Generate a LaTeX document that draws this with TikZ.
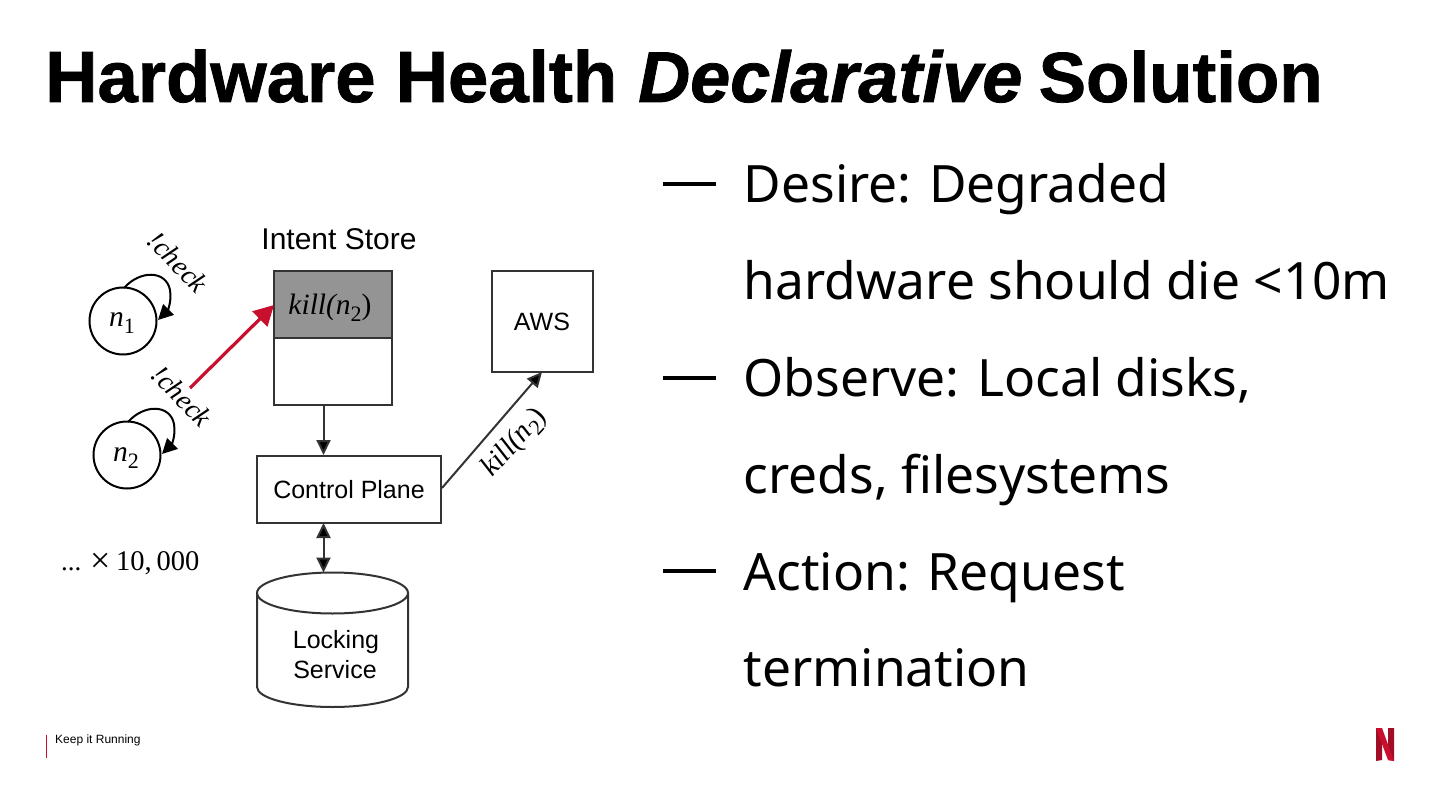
\documentclass[tikz,border=0pt]{standalone}
\usepackage{fontspec}
\setmainfont{Liberation Serif}
\newfontfamily\titlef[FakeBold=1.1]{Liberation Sans Bold}
\newfontfamily\titleif[FakeBold=1.1]{Liberation Sans Bold Italic}
\newfontfamily\bodyf{Noto Sans}
\newfontfamily\diagf{Liberation Sans}
\usetikzlibrary{arrows.meta,shapes.geometric}
\definecolor{crim}{HTML}{C8102E}
\tikzset{
 bx/.style={draw=black!80,line width=2pt,inner sep=0pt,anchor=north west},
 lbl/.style={font=\diagf\fontsize{25}{28}\selectfont,text=black,inner sep=0pt},
 body/.style={font=\bodyf\fontsize{51.5}{56}\selectfont,text=black,anchor=base west,inner sep=0pt},
 dashline/.style={line width=3.6pt,draw=black},
 cir/.style={draw=black,line width=2pt,circle,minimum size=67pt,inner sep=0pt},
 math/.style={font=\fontsize{29.5}{32}\selectfont\itshape,inner sep=0pt},
 conn/.style={draw=black!80,line width=2pt,-{Triangle[length=15pt,width=14pt,fill=black]}},
 both/.style={draw=black!80,line width=2pt,{Triangle[length=15pt,width=14pt,fill=black]}-{Triangle[length=15pt,width=14pt,fill=black]}},
}
\newcommand{\subn}[1]{\textit{n}\raisebox{-0.5ex}{\fontsize{22}{24}\selectfont\upshape #1}}
\begin{document}
\begin{tikzpicture}[x=1pt,y=-1pt]
\useasboundingbox (0,0) rectangle (1440,810);
\fill[white] (0,0) rectangle (1440,810);
% title
\node[anchor=base west,inner sep=0pt,font=\titlef\fontsize{72.5}{80}\selectfont] (title) at (45,102) {Hardware Health};
\node[anchor=base west,inner sep=0pt,font=\titleif\fontsize{72}{80}\selectfont] (titleb) at (638,102) {Declarative};
\node[anchor=base west,inner sep=0pt,font=\titlef\fontsize{71}{80}\selectfont] (titlec) at (1038.5,102) {Solution};
% body
\foreach \n/\y/\t in {a/203/{Desire: Degraded},b/300/{hardware should die <10m},c/396/{Observe: Local disks,},d/493/{creds, filesystems},e/590/{Action: Request},f/686/{termination}}
  \node[body] (b\n) at (743.5,\y) {\t};
\coordinate (d1a) at (663,184); \coordinate (d1b) at (716,184);
\coordinate (d2a) at (663,378); \coordinate (d2b) at (716,378);
\coordinate (d3a) at (663,571); \coordinate (d3b) at (716,571);
\draw[dashline] (d1a)--(d1b); \draw[dashline] (d2a)--(d2b); \draw[dashline] (d3a)--(d3b);
% diagram
\node[lbl,font=\diagf\fontsize{30}{32}\selectfont] (intent) at (339,239) {Intent Store};
\node[bx,fill=black!42,minimum width=118pt,minimum height=67pt] (kill) at (272.7,270) {};
\node[math] (killt) at (330,308) {kill(\subn{2}\upshape)};
\node[bx,minimum width=118pt,minimum height=67pt] (empty) at (272.7,337) {};
\node[bx,minimum width=101pt,minimum height=101pt,lbl] (aws) at (490.7,270) {};
\node[lbl] at (542,322) {AWS};
\node[bx,minimum width=184pt,minimum height=67pt] (cp) at (256.2,454.7) {};
\node[lbl] (cpt) at (349,490) {Control Plane};
% cylinder
\draw[draw=black!80,line width=2pt,fill=white] (257,593) arc[x radius=75.5,y radius=20.5,start angle=180,end angle=360] -- (408,687) arc[x radius=75.5,y radius=20,start angle=0,end angle=180] -- cycle;
\draw[draw=black!80,line width=2pt] (257,593) arc[x radius=75.5,y radius=20.5,start angle=180,end angle=0];
\coordinate (lock) at (323.5,572.5);
\node[lbl,anchor=base] (lockt) at (336,648) {Locking};
\node[lbl,anchor=base] (lockt2) at (335,678) {Service};
% connectors
\coordinate (s1) at (323.5,405); \coordinate (e1) at (323.5,455);
\draw[conn] (s1) -- (e1);
\coordinate (s2) at (323.5,523); \draw[both] (s2) -- (lock);
\coordinate (cpr) at (442,488); \coordinate (awsb) at (542,372);
\draw[conn] (cpr) -- (awsb);
\coordinate (rs) at (190,388); \coordinate (re) at (274,305);
\draw[line width=3.2pt,draw=crim,-{Triangle[length=20pt,width=21pt,fill=crim]}] (rs) -- (re);
% circles
\node[cir] (n1) at (123,321) {}; 
\node[math] at (122,323) {\subn{1}};
\node[cir] (n2) at (127,455) {};
\node[math] at (126,458) {\subn{2}};
\draw[line width=2pt,draw=black,-{Triangle[length=15pt,width=15pt,fill=black]}] (124,288) .. controls (140,270) and (166,270) .. (170,290) .. controls (172,303) and (167,311) .. (158,320);
\draw[line width=2pt,draw=black,-{Triangle[length=15pt,width=15pt,fill=black]}] (128,422) .. controls (144,404) and (170,404) .. (174,424) .. controls (176,437) and (171,445) .. (162,454);
\node[font=\itshape\fontsize{28}{30}\selectfont,rotate=-46,inner sep=0pt] (c1) at (178,262) {!check};
\node[font=\itshape\fontsize{28}{30}\selectfont,rotate=-46,inner sep=0pt] (c2) at (182,396) {!check};
\node[font=\itshape\fontsize{29}{30}\selectfont,rotate=48,inner sep=0pt] (k2) at (515,443) {kill(\subn{2}\upshape)};
\node[anchor=base west,inner sep=0pt,font=\fontsize{27}{32}\selectfont] (times) at (61,570) {...};
\node[anchor=base west,inner sep=0pt,font=\fontsize{36}{32}\selectfont] (times2) at (90,572) {×};
\node[anchor=base west,inner sep=0pt,font=\fontsize{28.5}{32}\selectfont] (times3) at (116,570) {10,\,000};
% footer
\coordinate (fa) at (46.5,735); \coordinate (fb) at (46.5,758);
\draw[line width=1.2pt,draw=crim] (fa)--(fb);
\node[anchor=base west,inner sep=0pt,font=\diagf\fontsize{12}{14}\selectfont] (foot) at (55,743) {Keep it Running};
% logo
\fill[black!20!crim] (1376,728) -- (1382,728) -- (1382,760) -- (1376,761) -- cycle;
\fill[black!20!crim] (1388,728) -- (1394,728) -- (1394,761) -- (1388,760) -- cycle;
\fill[crim] (1376,728) -- (1382,728) -- (1394,761) -- (1388,760) -- cycle;
\end{tikzpicture}
\end{document}
